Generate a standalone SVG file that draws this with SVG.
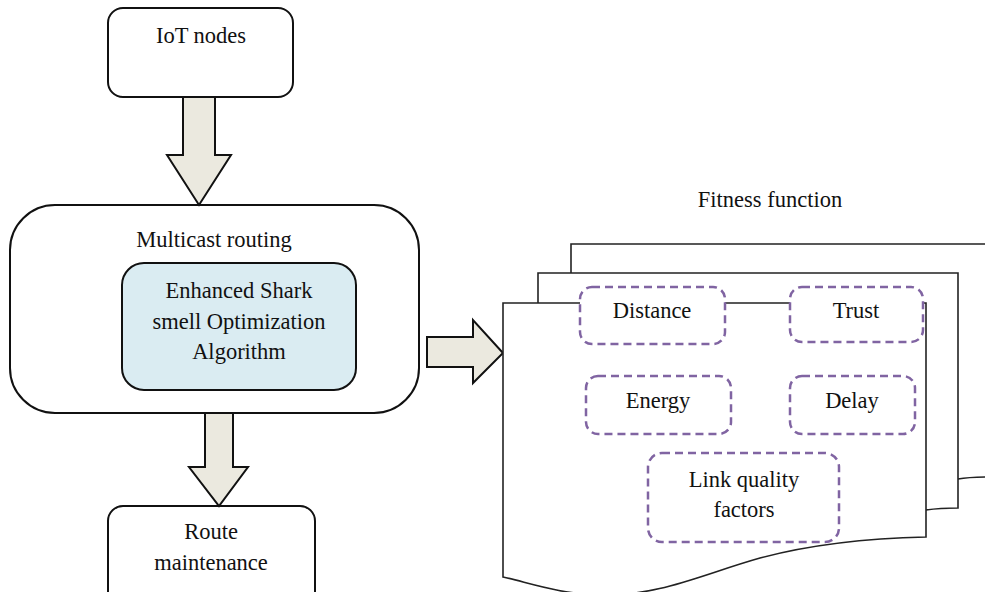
<svg xmlns="http://www.w3.org/2000/svg" width="985" height="592" viewBox="0 0 985 592">
  <style>
    text { font-family: "Liberation Serif", "Times New Roman", serif; font-size: 22.5px; fill: #111; text-anchor: middle; }
    .box { fill: #fff; stroke: #111; stroke-width: 2; }
    .algo { fill: #daecf2; stroke: #111; stroke-width: 2; }
    .arrow { fill: #ebe9df; stroke: #111; stroke-width: 2; stroke-linejoin: miter; }
    .page { fill: #fff; stroke: #222; stroke-width: 1.6; }
    .factor { fill: #fff; stroke: #8064a2; stroke-width: 2.5; stroke-dasharray: 8 5; }
  </style>

  <!-- flow nodes -->
  <g id="iot-nodes">
    <rect class="box" x="108" y="8" width="185" height="89" rx="15"/>
    <text x="201" y="43">IoT nodes</text>
  </g>

  <g id="multicast-routing">
    <rect class="box" x="10" y="205" width="409" height="208" rx="45"/>
    <text x="214" y="247">Multicast routing</text>
  </g>

  <g id="esso">
    <rect class="algo" x="122" y="263" width="234" height="127" rx="22"/>
    <text x="239" y="298">Enhanced Shark</text>
    <text x="239" y="329">smell Optimization</text>
    <text x="239" y="359">Algorithm</text>
  </g>

  <g id="route-maintenance">
    <rect class="box" x="108" y="506" width="207" height="100" rx="15"/>
    <text x="211" y="539">Route</text>
    <text x="211" y="570">maintenance</text>
  </g>

  <!-- block arrows -->
  <g id="connectors">
    <path class="arrow" d="M183,97 H215 V155 H231 L199,205 L167,155 H183 Z"/>
    <path class="arrow" d="M205,413 H233 V467 H248 L219,506 L189,467 H205 Z"/>
    <path class="arrow" d="M427,337 H473 V320 L503,353 L473,383 V367 H427 Z"/>
  </g>

  <!-- fitness function: stacked pages, back to front -->
  <g id="fitness-function">
    <text x="770" y="207">Fitness function</text>
    <path class="page" d="M571,244 H992 V477 Q970,477 958,479 H600 V290 H571 Z"/>
    <path class="page" d="M538,273 H958 V508 Q940,508 926,510 H538 Z"/>
    <path class="page" d="M503,303 H926 V537 C880,538 820,542 760,558 C700,575 660,596 600,595 C560,594 530,583 503,577 Z"/>
  </g>

  <g id="distance">
    <rect class="factor" x="580" y="287" width="145" height="57" rx="12"/>
    <text x="652" y="318">Distance</text>
  </g>
  <g id="trust">
    <rect class="factor" x="790" y="287" width="133" height="55" rx="12"/>
    <text x="856" y="318">Trust</text>
  </g>
  <g id="energy">
    <rect class="factor" x="586" y="376" width="145" height="58" rx="12"/>
    <text x="658" y="408">Energy</text>
  </g>
  <g id="delay">
    <rect class="factor" x="790" y="376" width="125" height="58" rx="12"/>
    <text x="852" y="408">Delay</text>
  </g>
  <g id="link-quality">
    <rect class="factor" x="648" y="453" width="191" height="89" rx="14"/>
    <text x="744" y="487">Link quality</text>
    <text x="744" y="517">factors</text>
  </g>
</svg>
